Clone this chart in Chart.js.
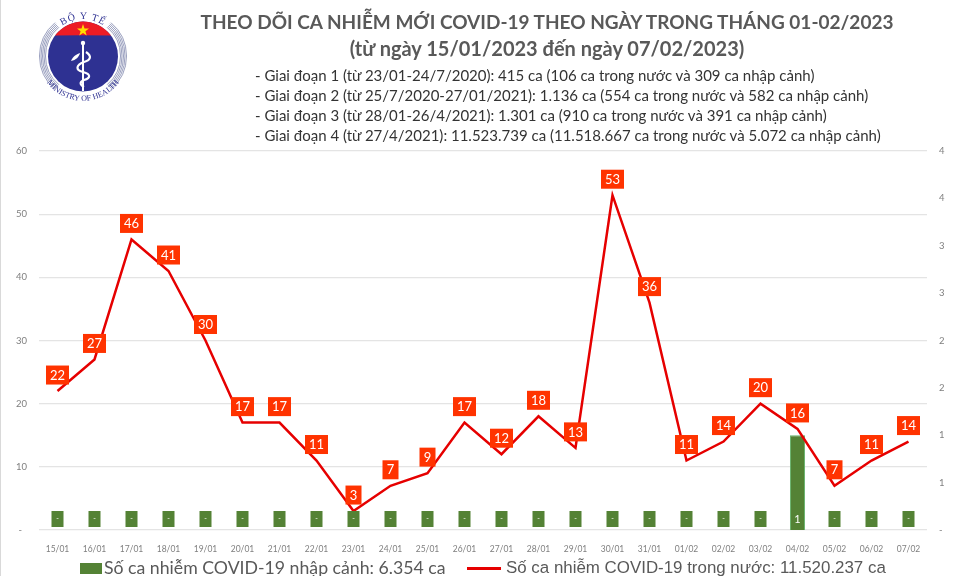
<!DOCTYPE html>
<html lang="vi">
<head>
<meta charset="utf-8">
<title>Covid-19</title>
<script src="https://cdn.jsdelivr.net/npm/chart.js@4"></script>
<style>
  html, body { margin: 0; padding: 0; background: #fff; }
  #page { position: relative; width: 960px; height: 576px; overflow: hidden; font-family: Lato, "Open Sans", sans-serif; }
  #page .edge { position: absolute; left: 0; top: 0; width: 1px; height: 576px; background: #d9d9d9; }
  #chart { position: absolute; left: 0; top: 0; }
  .title { position: absolute; left: 0; width: 1094px; text-align: center; font-weight: 700; color: #595959; white-space: nowrap; }
  .note { position: absolute; left: 255px; font-size: 15px; color: #333; white-space: nowrap; }
  .legend { position: absolute; top: 555px; line-height: 25px; color: #595959; white-space: nowrap; }
  .swatch { position: absolute; }
  #logo { position: absolute; left: 30px; top: 5px; }
</style>
</head>
<body>
<div id="page">
  <div class="edge"></div>
  <canvas id="chart" width="960" height="576"></canvas>

  <svg id="logo" width="106" height="106" viewBox="30 5 106 106">
    <g fill="none" stroke="#7f86ad" stroke-width="0.8">
      <circle cx="83" cy="56" r="37.5" pathLength="360" stroke-dasharray="100 80" stroke-dashoffset="50"/>
      <circle cx="83" cy="56" r="39" pathLength="360" stroke-dasharray="100 80" stroke-dashoffset="50"/>
      <circle cx="83" cy="56" r="40.5" pathLength="360" stroke-dasharray="100 80" stroke-dashoffset="50"/>
      <circle cx="83" cy="56" r="42" pathLength="360" stroke-dasharray="100 80" stroke-dashoffset="50"/>
      <circle cx="83" cy="56" r="43.5" pathLength="360" stroke-dasharray="100 80" stroke-dashoffset="50"/>
    </g>
    <circle cx="83" cy="56.5" r="35" fill="#2e3192"/>
    <path d="M55 35.5 A35 35 0 0 1 111 35.5 Q83 35 55 35.5 Z" fill="#ed1c24"/>
    <polygon points="83,24.5 84.5,29 89,29 85.4,31.7 86.7,36 83,33.4 79.3,36 80.6,31.7 77,29 81.5,29" transform="translate(0,-0.5)" fill="#ffde00"/>
    <path d="M83 42 V91" stroke="#fff" stroke-width="2" fill="none"/>
    <circle cx="83" cy="43" r="2.2" fill="#fff"/>
    <path d="M86 52 C92 56 91 60 84 62 C76 65 75 70 83 72 C91 74 91 78 84 80 C79 82 80 85 84 87" stroke="#fff" stroke-width="2.2" fill="none"/>
    <path d="M71 61 C73 56 77 54 80 53 C79 57 76 60 71 61 Z" fill="#fff"/>
    <defs>
      <path id="arcTop" d="M55 32 A37 37 0 0 1 111 32"/>
      <path id="arcBottom" d="M46 81 A44.5 44.5 0 0 0 120 81"/>
    </defs>
    <text font-family="Liberation Serif" font-size="10" fill="#2e3192" letter-spacing="1"><textPath href="#arcTop" startOffset="50%" text-anchor="middle">BỘ Y TẾ</textPath></text>
    <text font-family="Liberation Serif" font-size="8" fill="#2e3192"><textPath href="#arcBottom" startOffset="50%" text-anchor="middle">MINISTRY OF HEALTH</textPath></text>
  </svg>

  <div class="title" style="top:10px;font-size:19px">THEO DÕI CA NHIỄM MỚI COVID-19 THEO NGÀY TRONG THÁNG 01-02/2023</div>
  <div class="title" style="top:36px;font-size:20px">(từ ngày 15/01/2023 đến ngày 07/02/2023)</div>
  <div class="note" style="top:66px">- Giai đoạn 1 (từ 23/01-24/7/2020): 415 ca (106 ca trong nước và 309 ca nhập cảnh)</div>
  <div class="note" style="top:86px">- Giai đoạn 2 (từ 25/7/2020-27/01/2021): 1.136 ca (554 ca trong nước và 582 ca nhập cảnh)</div>
  <div class="note" style="top:106px">- Giai đoạn 3 (từ 28/01-26/4/2021): 1.301 ca (910 ca trong nước và 391 ca nhập cảnh)</div>
  <div class="note" style="top:126px">- Giai đoạn 4 (từ 27/4/2021): 11.523.739 ca (11.518.667 ca trong nước và 5.072 ca nhập cảnh)</div>

  <div class="swatch" style="left:80px;top:563px;width:22px;height:11px;background:#548235"></div>
  <div class="legend" style="left:104px;font-size:17.7px">Số ca nhiễm COVID-19 nhập cảnh: 6.354 ca</div>
  <div class="swatch" style="left:467px;top:567px;width:34px;height:3px;background:#e60000"></div>
  <div class="legend" style="left:506px;font-size:16.9px;font-family:'Liberation Sans'">Số ca nhiễm COVID-19 trong nước: 11.520.237 ca</div>
</div>

<script>
// Chart data
const days = [
  "15/01", "16/01", "17/01", "18/01", "19/01", "20/01", "21/01", "22/01",
  "23/01", "24/01", "25/01", "26/01", "27/01", "28/01", "29/01", "30/01",
  "31/01", "01/02", "02/02", "03/02", "04/02", "05/02", "06/02", "07/02",
];
const domesticCases = [22, 27, 46, 41, 30, 17, 17, 11, 3, 7, 9, 17, 12, 18, 13, 53, 36, 11, 14, 20, 16, 7, 11, 14];
const importedCases = [0, 0, 0, 0, 0, 0, 0, 0, 0, 0, 0, 0, 0, 0, 0, 0, 0, 0, 0, 0, 1, 0, 0, 0];

const RED_LABEL = "#ff3300";
const GREEN = "#548235";

// Same look as the "accounting" number format: zero is a dash
const tickText = (value) => (value === 0 ? "-" : String(Math.round(value)));

// Draws the boxed value labels, there is no datalabels plugin here
const boxedLabels = {
  id: "boxedLabels",
  afterDatasetsDraw(chart) {
    const { ctx } = chart;
    const barMeta = chart.getDatasetMeta(0);
    const lineMeta = chart.getDatasetMeta(1);
    ctx.save();
    ctx.textAlign = "center";
    ctx.textBaseline = "middle";

    // imported cases, fixed just above the axis
    barMeta.data.forEach((bar, i) => {
      const y = chart.chartArea.bottom - 11;
      const value = importedCases[i];
      if (value === 0) {
        ctx.fillStyle = GREEN;
        ctx.fillRect(bar.x - 6, y - 8, 12, 16);
      }
      ctx.fillStyle = "#fff";
      ctx.font = value === 0 ? "7px Lato" : "11px Lato";
      ctx.fillText(value === 0 ? "-" : value, bar.x, y);
    });

    // domestic cases, above each point
    lineMeta.data.forEach((point, i) => {
      const text = String(domesticCases[i]);
      const w = text.length > 1 ? 23 : 16;
      const y = point.y - 16;
      ctx.fillStyle = RED_LABEL;
      ctx.fillRect(point.x - w / 2, y - 9.5, w, 19);
      ctx.fillStyle = "#fff";
      ctx.font = "13px Lato";
      ctx.fillText(text, point.x, y + 0.5);
    });
    ctx.restore();
  },
};

new Chart(document.querySelector("#chart"), {
  type: "bar",
  data: {
    labels: days,
    datasets: [
      {
        label: "Số ca nhiễm COVID-19 nhập cảnh",
        data: importedCases,
        yAxisID: "yRight",
        backgroundColor: GREEN,
        borderColor: "#62b36a",
        borderWidth: 1,
        barPercentage: 0.41,
        categoryPercentage: 1,
        order: 2,
      },
      {
        type: "line",
        label: "Số ca nhiễm COVID-19 trong nước",
        data: domesticCases,
        yAxisID: "y",
        borderColor: "#e60000",
        borderWidth: 2.5,
        pointRadius: 0,
        tension: 0,
        order: 1,
      },
    ],
  },
  options: {
    responsive: false,
    animation: false,
    devicePixelRatio: 1,
    layout: { padding: { top: 151, left: 0, right: 0, bottom: 0 } },
    plugins: { legend: { display: false }, title: { display: false }, tooltip: { enabled: false } },
    scales: {
      x: {
        grid: { display: false },
        border: { display: false },
        afterFit: (scale) => { scale.height = 46; },
        ticks: { color: "#7f7f7f", font: { family: "Lato", size: 8.5 }, padding: 6, maxRotation: 0, autoSkip: false },
      },
      y: {
        min: 0,
        max: 60,
        afterFit: (scale) => { scale.width = 39; },
        grid: { color: "#e4e4e4", lineWidth: 1.3, drawTicks: false },
        border: { display: false },
        ticks: { stepSize: 10, color: "#7f7f7f", font: { family: "Lato", size: 9.5 }, padding: 12, callback: (v) => (v === 0 ? "-  " : tickText(v)) },
      },
      yRight: {
        position: "right",
        min: 0,
        max: 4,
        afterFit: (scale) => { scale.width = 33; },
        grid: { display: false, drawTicks: false },
        border: { display: false },
        ticks: { stepSize: 0.5, color: "#7f7f7f", font: { family: "Lato", size: 9.5 }, padding: 12, callback: tickText },
      },
    },
  },
  plugins: [boxedLabels],
});
</script>
</body>
</html>
